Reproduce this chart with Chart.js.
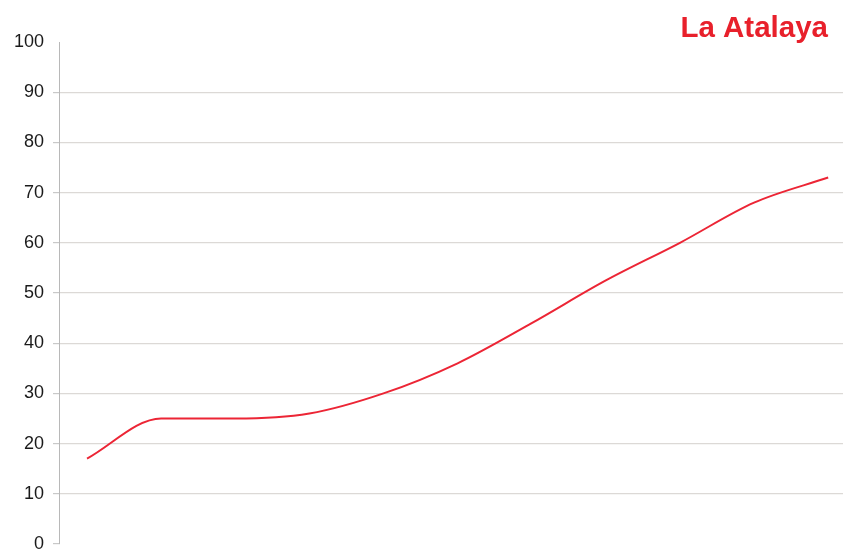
<!DOCTYPE html>
<html>
<head>
<meta charset="utf-8">
<script src="https://cdn.jsdelivr.net/npm/chart.js@4"></script>
<style>
html,body{margin:0;padding:0;background:#fff;overflow:hidden;}
#wrap{position:absolute;left:0;top:0;width:843px;height:570px;}
</style>
</head>
<body>
<div id="wrap"><canvas id="c"></canvas></div>
<script>
const titleText = "La Atalaya";
const categories = [0,1,2,3,4,5,6,7,8,9,10];
const values = [17, 25, 25, 26, 30, 36, 44, 52.5, 60, 68, 73];
const yTicks = [0,10,20,30,40,50,60,70,80,90,100];

const titlePlugin = {
  id: 'cornerTitle',
  afterDraw(chart) {
    const ctx = chart.ctx;
    ctx.save();
    ctx.font = 'bold 29.5px "Liberation Sans", Arial, sans-serif';
    ctx.fillStyle = '#e8202b';
    ctx.textAlign = 'right';
    ctx.textBaseline = 'alphabetic';
    ctx.fillText(titleText, 828, 37);
    ctx.restore();
  }
};

new Chart(document.getElementById('c'), {
  type: 'line',
  data: {
    datasets: [{
      data: categories.map((c, i) => ({x: c, y: values[i]})),
      borderColor: '#ec2535',
      borderWidth: 2,
      pointRadius: 0,
      fill: false,
      cubicInterpolationMode: 'monotone'
    }]
  },
  options: {
    responsive: true,
    maintainAspectRatio: false,
    animation: false,
    layout: {padding: {left: 0, right: 0, top: 42, bottom: 26}},
    plugins: {legend: {display: false}, tooltip: {enabled: false}},
    scales: {
      x: {
        type: 'linear',
        min: -0.378,
        max: 10.2,
        display: false
      },
      y: {
        min: 0,
        max: 100,
        afterFit(scale) { scale.width = 59; },
        afterBuildTicks(scale) { scale.ticks = yTicks.map(v => ({value: v})); },
        border: {display: true, color: '#b8b8b8', width: 1},
        grid: {
          color: ctx => (ctx.tick && (ctx.tick.value === 100 || ctx.tick.value === 0)) ? 'rgba(0,0,0,0)' : '#dcd9d6',
          tickColor: ctx => (ctx.tick && ctx.tick.value === 100) ? 'rgba(0,0,0,0)' : '#c8c8c8',
          tickLength: 6,
          lineWidth: 1.2
        },
        ticks: {
          color: '#1a1a1a',
          padding: 9,
          font: {family: '"Liberation Sans", Arial, sans-serif', size: 18}
        }
      }
    }
  },
  plugins: [titlePlugin]
});
</script>
</body>
</html>
